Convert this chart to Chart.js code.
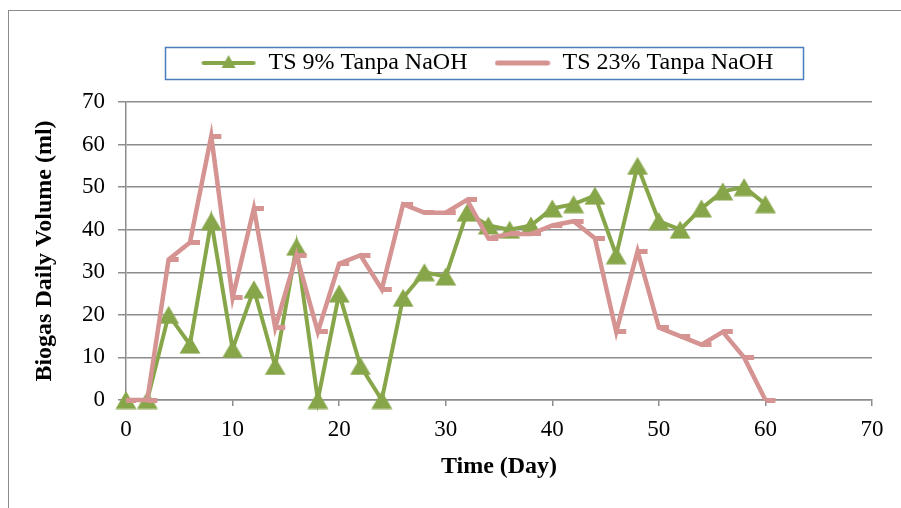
<!DOCTYPE html>
<html>
<head>
<meta charset="utf-8">
<script src="https://cdn.jsdelivr.net/npm/chart.js@4"></script>
<style>
  html, body { margin: 0; background: #fff; }
  #wrap { position: relative; width: 901px; height: 508px; }
</style>
</head>
<body>
<div id="wrap"><canvas id="biogas" width="901" height="508"></canvas></div>
<script>
// days of measurement and daily biogas volume (ml)
const days = [0, 2, 4, 6, 8, 10, 12, 14, 16, 18, 20, 22, 24, 26, 28, 30, 32, 34, 36, 38, 40, 42, 44, 46, 48, 50, 52, 54, 56, 58, 60];
const ts9 = [0, 0, 20, 13, 42, 12, 26, 8, 36, 0, 25, 8, 0, 24, 30, 29, 44, 41, 40, 41, 45, 46, 48, 34, 55, 42, 40, 45, 49, 50, 46];
const ts23 = [0, 0, 33, 37, 62, 24, 45, 17, 34, 16, 32, 34, 26, 46, 44, 44, 47, 38, 39, 39, 41, 42, 38, 16, 35, 17, 15, 13, 16, 10, 0];
const seriesNames = ['TS 9% Tanpa NaOH', 'TS 23% Tanpa NaOH'];
const axisMax = 70;
const axisStep = 10;

const GREEN = '#87a64a';
const PINK = '#d59392';
const GRID = '#8c8c8c';
const FONT = "'Liberation Serif', serif";
const LEGEND_SHIFT = 12;

// small dash marker, sits to the right of the point like the Excel one
function dashMarker(color) {
  const c = document.createElement('canvas');
  c.width = 22; c.height = 5;
  const g = c.getContext('2d');
  g.fillStyle = color;
  g.fillRect(11, 0, 10, 5);
  return c;
}

// triangle centred on its bounding box (Chart.js' own one sits high)
function triangleMarker(color) {
  const c = document.createElement('canvas');
  c.width = 22; c.height = 19;
  const g = c.getContext('2d');
  g.fillStyle = color;
  g.beginPath(); g.moveTo(11, 0.5); g.lineTo(21.5, 18.5); g.lineTo(0.5, 18.5); g.closePath(); g.fill();
  return c;
}

// legend samples: line with (optional) triangle
function legendSample(color, withTriangle) {
  const c = document.createElement('canvas');
  c.width = 56; c.height = 22;
  const g = c.getContext('2d');
  g.strokeStyle = color;
  g.lineWidth = withTriangle ? 4 : 5;
  g.lineCap = 'round';
  g.beginPath(); g.moveTo(3, 11); g.lineTo(53, 11); g.stroke();
  if (withTriangle) {
    g.fillStyle = color;
    g.beginPath(); g.moveTo(28, 3); g.lineTo(35, 16); g.lineTo(21, 16); g.closePath(); g.fill();
  }
  return c;
}
const legendImgs = [legendSample(GREEN, true), legendSample(PINK, false)];

const frame = {
  id: 'frame',
  beforeInit(chart) {
    const lg = chart.legend;
    // extra room between legend and plot
    const fit = lg.fit;
    lg.fit = function () { fit.call(this); this.height += 17; };
    // legend sits a bit left of the plot centre
    const draw = lg.draw;
    lg.draw = function () {
      this.ctx.save();
      this.ctx.translate(-LEGEND_SHIFT, 0);
      draw.call(this);
      this.ctx.restore();
    };
  },
  beforeDraw(chart) {
    const ctx = chart.ctx;
    ctx.save();
    ctx.strokeStyle = '#8c8c8c';
    ctx.lineWidth = 1;
    ctx.strokeRect(8.5, 10.5, 1000, 1000);
    ctx.restore();
  },
  afterDraw(chart) {
    const hb = chart.legend.legendHitBoxes;
    if (!hb || !hb.length) return;
    const last = hb[hb.length - 1];
    const cy = hb[0].top + hb[0].height / 2;
    const x0 = hb[0].left - 36 - LEGEND_SHIFT;
    const x1 = last.left + last.width + 29 - LEGEND_SHIFT;
    const ctx = chart.ctx;
    ctx.save();
    ctx.strokeStyle = '#4a7ebb';
    ctx.lineWidth = 1.5;
    ctx.strokeRect(Math.round(x0) + 0.5, Math.round(cy - 16) + 0.5, Math.round(x1 - x0), 32);
    ctx.restore();
  }
};

new Chart(document.getElementById('biogas'), {
  type: 'line',
  data: {
    datasets: [
      {
        label: seriesNames[0],
        data: days.map((d, i) => ({ x: d, y: ts9[i] })),
        borderColor: GREEN,
        backgroundColor: GREEN,
        borderWidth: 4,
        pointStyle: triangleMarker(GREEN),
        pointRadius: 10,
        tension: 0,
        clip: false,
        order: 1
      },
      {
        label: seriesNames[1],
        data: days.map((d, i) => ({ x: d, y: ts23[i] })),
        borderColor: PINK,
        backgroundColor: PINK,
        borderWidth: 4.5,
        pointStyle: dashMarker(PINK),
        pointRadius: 5,
        tension: 0,
        clip: false,
        order: 0
      }
    ]
  },
  options: {
    responsive: false,
    animation: false,
    layout: { padding: { left: 30, right: 29, top: 24, bottom: 0 } },
    plugins: {
      tooltip: { enabled: false },
      legend: {
        position: 'top',
        fullSize: false,
        labels: {
          usePointStyle: true,
          pointStyleWidth: 56,
          padding: 27,
          color: '#000',
          font: { family: FONT, size: 24 },
          sort: (a, b) => a.datasetIndex - b.datasetIndex,
          generateLabels(chart) {
            const items = Chart.defaults.plugins.legend.labels.generateLabels(chart);
            items.forEach(it => { it.pointStyle = legendImgs[it.datasetIndex]; });
            return items;
          }
        }
      }
    },
    scales: {
      x: {
        type: 'linear',
        min: 0,
        max: axisMax,
        afterFit(scale) { scale.height = 108; },
        border: { color: GRID, width: 1.5 },
        grid: { drawOnChartArea: false, tickLength: 6, color: GRID, lineWidth: 1.5 },
        ticks: { stepSize: axisStep, padding: 10, color: '#000', font: { family: FONT, size: 23 } },
        title: {
          display: true,
          text: 'Time (Day)',
          color: '#000',
          font: { family: FONT, size: 24, weight: 'bold' },
          padding: { top: 0, bottom: 27 }
        }
      },
      y: {
        min: 0,
        max: axisMax,
        afterFit(scale) { scale.width = 96; },
        border: { color: GRID, width: 1.5 },
        grid: { color: GRID, lineWidth: 1.5, tickLength: 8 },
        ticks: { stepSize: axisStep, padding: 13, color: '#000', font: { family: FONT, size: 23 } },
        title: {
          display: true,
          text: 'Biogas Daily Volume (ml)',
          color: '#000',
          font: { family: FONT, size: 24, weight: 'bold' },
          padding: 0
        }
      }
    }
  },
  plugins: [frame]
});
</script>
</body>
</html>
